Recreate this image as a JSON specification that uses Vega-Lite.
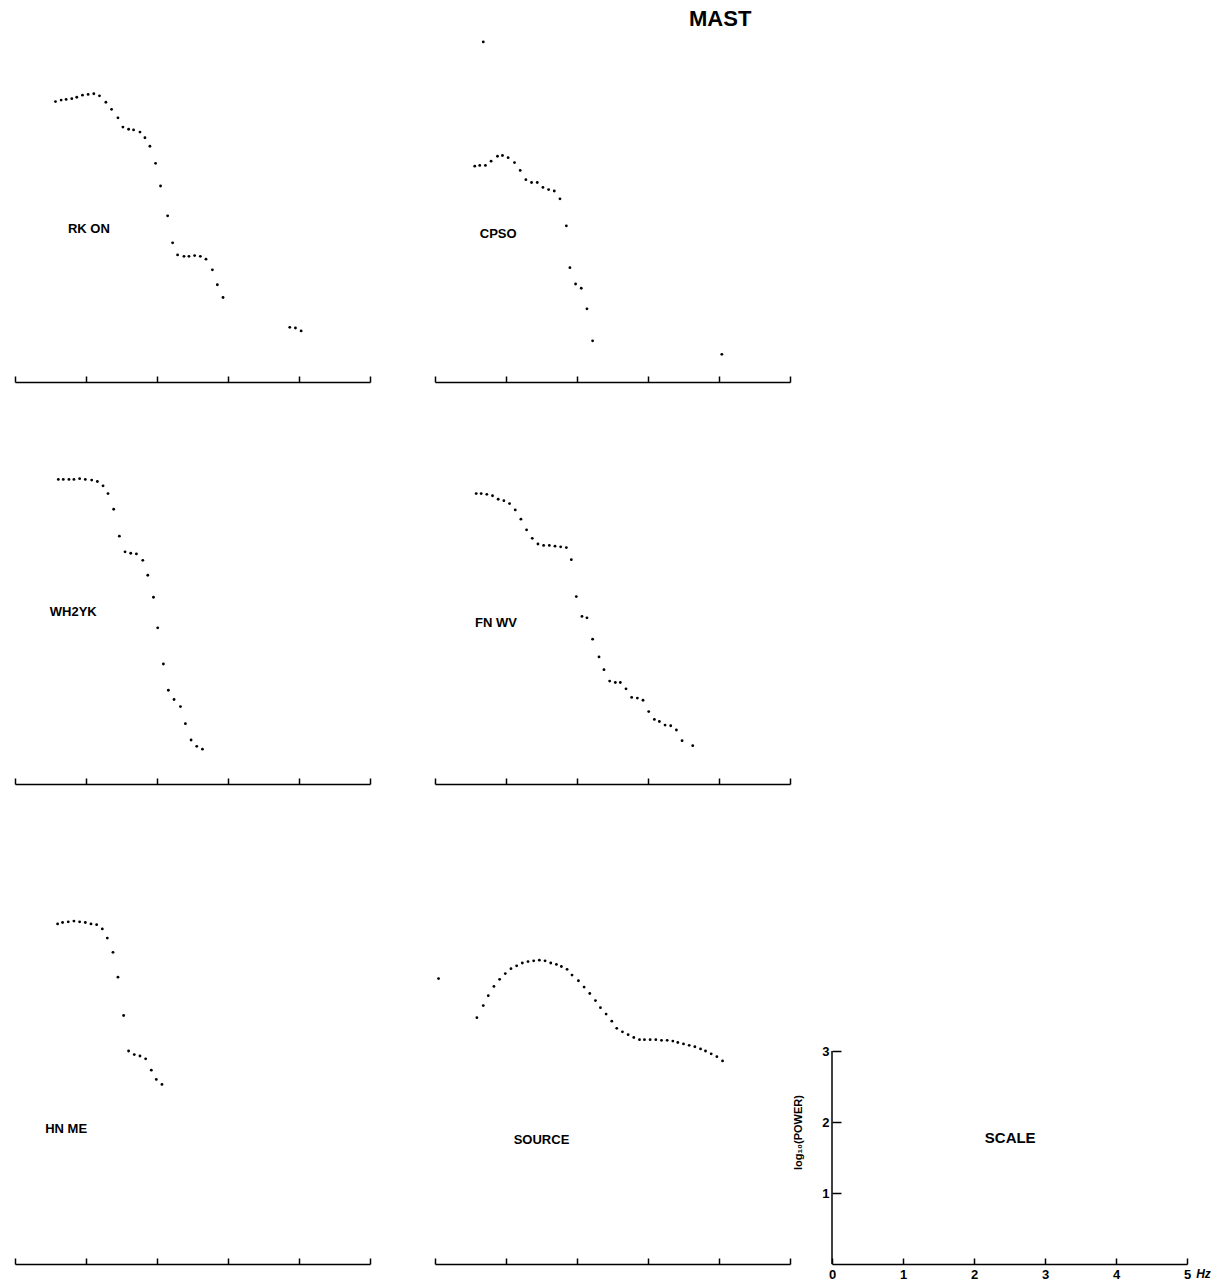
{
  "$schema": "https://vega.github.io/schema/vega-lite/v6.json",
  "padding": {"top": 8, "left": 14, "right": 0, "bottom": 4},
  "background": "white",
  "title": {
    "text": "MAST",
    "anchor": "start",
    "frame": "group",
    "dx": 674,
    "fontSize": 22,
    "font": "Liberation Sans",
    "fontWeight": "bold",
    "color": "#000",
    "offset": 6
  },
  "datasets": {
    "spectra": [
      {"p": "RK ON", "f": 0.57, "v": 3.95}, {"p": "RK ON", "f": 0.65, "v": 3.97}, {"p": "RK ON", "f": 0.72, "v": 3.98},
      {"p": "RK ON", "f": 0.80, "v": 3.99}, {"p": "RK ON", "f": 0.87, "v": 4.01}, {"p": "RK ON", "f": 0.95, "v": 4.04},
      {"p": "RK ON", "f": 1.03, "v": 4.05}, {"p": "RK ON", "f": 1.11, "v": 4.06}, {"p": "RK ON", "f": 1.19, "v": 4.03},
      {"p": "RK ON", "f": 1.28, "v": 3.94}, {"p": "RK ON", "f": 1.36, "v": 3.84}, {"p": "RK ON", "f": 1.45, "v": 3.72},
      {"p": "RK ON", "f": 1.52, "v": 3.59}, {"p": "RK ON", "f": 1.60, "v": 3.56}, {"p": "RK ON", "f": 1.67, "v": 3.55},
      {"p": "RK ON", "f": 1.76, "v": 3.52}, {"p": "RK ON", "f": 1.83, "v": 3.44}, {"p": "RK ON", "f": 1.90, "v": 3.32},
      {"p": "RK ON", "f": 1.98, "v": 3.08}, {"p": "RK ON", "f": 2.05, "v": 2.76}, {"p": "RK ON", "f": 2.15, "v": 2.34},
      {"p": "RK ON", "f": 2.22, "v": 1.96}, {"p": "RK ON", "f": 2.29, "v": 1.79}, {"p": "RK ON", "f": 2.38, "v": 1.77},
      {"p": "RK ON", "f": 2.45, "v": 1.77}, {"p": "RK ON", "f": 2.53, "v": 1.78}, {"p": "RK ON", "f": 2.61, "v": 1.77},
      {"p": "RK ON", "f": 2.69, "v": 1.73}, {"p": "RK ON", "f": 2.78, "v": 1.58}, {"p": "RK ON", "f": 2.85, "v": 1.37},
      {"p": "RK ON", "f": 2.93, "v": 1.19}, {"p": "RK ON", "f": 3.87, "v": 0.77}, {"p": "RK ON", "f": 3.95, "v": 0.76},
      {"p": "RK ON", "f": 4.03, "v": 0.72},

      {"p": "CPSO", "f": 0.68, "v": 4.79},
      {"p": "CPSO", "f": 0.56, "v": 3.04}, {"p": "CPSO", "f": 0.63, "v": 3.05}, {"p": "CPSO", "f": 0.71, "v": 3.05},
      {"p": "CPSO", "f": 0.79, "v": 3.11}, {"p": "CPSO", "f": 0.88, "v": 3.18}, {"p": "CPSO", "f": 0.95, "v": 3.19},
      {"p": "CPSO", "f": 1.03, "v": 3.16}, {"p": "CPSO", "f": 1.12, "v": 3.09}, {"p": "CPSO", "f": 1.20, "v": 2.98},
      {"p": "CPSO", "f": 1.28, "v": 2.85}, {"p": "CPSO", "f": 1.36, "v": 2.81}, {"p": "CPSO", "f": 1.44, "v": 2.81},
      {"p": "CPSO", "f": 1.52, "v": 2.74}, {"p": "CPSO", "f": 1.60, "v": 2.71}, {"p": "CPSO", "f": 1.68, "v": 2.69},
      {"p": "CPSO", "f": 1.76, "v": 2.58}, {"p": "CPSO", "f": 1.85, "v": 2.20}, {"p": "CPSO", "f": 1.90, "v": 1.61},
      {"p": "CPSO", "f": 1.98, "v": 1.38}, {"p": "CPSO", "f": 2.06, "v": 1.32}, {"p": "CPSO", "f": 2.14, "v": 1.03},
      {"p": "CPSO", "f": 2.22, "v": 0.58}, {"p": "CPSO", "f": 4.04, "v": 0.39},

      {"p": "WH2YK", "f": 0.61, "v": 4.29}, {"p": "WH2YK", "f": 0.68, "v": 4.29}, {"p": "WH2YK", "f": 0.76, "v": 4.29},
      {"p": "WH2YK", "f": 0.83, "v": 4.29}, {"p": "WH2YK", "f": 0.91, "v": 4.30}, {"p": "WH2YK", "f": 0.99, "v": 4.29},
      {"p": "WH2YK", "f": 1.08, "v": 4.28}, {"p": "WH2YK", "f": 1.16, "v": 4.26}, {"p": "WH2YK", "f": 1.24, "v": 4.20},
      {"p": "WH2YK", "f": 1.31, "v": 4.09}, {"p": "WH2YK", "f": 1.39, "v": 3.87}, {"p": "WH2YK", "f": 1.47, "v": 3.49},
      {"p": "WH2YK", "f": 1.55, "v": 3.27}, {"p": "WH2YK", "f": 1.63, "v": 3.25}, {"p": "WH2YK", "f": 1.71, "v": 3.24},
      {"p": "WH2YK", "f": 1.80, "v": 3.15}, {"p": "WH2YK", "f": 1.87, "v": 2.94}, {"p": "WH2YK", "f": 1.95, "v": 2.63},
      {"p": "WH2YK", "f": 2.01, "v": 2.20}, {"p": "WH2YK", "f": 2.09, "v": 1.69}, {"p": "WH2YK", "f": 2.16, "v": 1.32},
      {"p": "WH2YK", "f": 2.24, "v": 1.19}, {"p": "WH2YK", "f": 2.33, "v": 1.09}, {"p": "WH2YK", "f": 2.40, "v": 0.85},
      {"p": "WH2YK", "f": 2.48, "v": 0.62}, {"p": "WH2YK", "f": 2.56, "v": 0.53}, {"p": "WH2YK", "f": 2.64, "v": 0.49},

      {"p": "FN WV", "f": 0.58, "v": 4.09}, {"p": "FN WV", "f": 0.65, "v": 4.09}, {"p": "FN WV", "f": 0.73, "v": 4.08},
      {"p": "FN WV", "f": 0.81, "v": 4.06}, {"p": "FN WV", "f": 0.89, "v": 4.01}, {"p": "FN WV", "f": 0.97, "v": 3.99},
      {"p": "FN WV", "f": 1.05, "v": 3.95}, {"p": "FN WV", "f": 1.13, "v": 3.86}, {"p": "FN WV", "f": 1.21, "v": 3.73},
      {"p": "FN WV", "f": 1.29, "v": 3.58}, {"p": "FN WV", "f": 1.37, "v": 3.46}, {"p": "FN WV", "f": 1.45, "v": 3.38},
      {"p": "FN WV", "f": 1.53, "v": 3.36}, {"p": "FN WV", "f": 1.61, "v": 3.36}, {"p": "FN WV", "f": 1.69, "v": 3.35},
      {"p": "FN WV", "f": 1.77, "v": 3.34}, {"p": "FN WV", "f": 1.85, "v": 3.33}, {"p": "FN WV", "f": 1.92, "v": 3.16},
      {"p": "FN WV", "f": 1.99, "v": 2.64}, {"p": "FN WV", "f": 2.07, "v": 2.36}, {"p": "FN WV", "f": 2.14, "v": 2.34},
      {"p": "FN WV", "f": 2.22, "v": 2.04}, {"p": "FN WV", "f": 2.31, "v": 1.79}, {"p": "FN WV", "f": 2.38, "v": 1.61},
      {"p": "FN WV", "f": 2.46, "v": 1.45}, {"p": "FN WV", "f": 2.54, "v": 1.43}, {"p": "FN WV", "f": 2.61, "v": 1.43},
      {"p": "FN WV", "f": 2.69, "v": 1.34}, {"p": "FN WV", "f": 2.77, "v": 1.22}, {"p": "FN WV", "f": 2.85, "v": 1.21},
      {"p": "FN WV", "f": 2.93, "v": 1.18}, {"p": "FN WV", "f": 3.01, "v": 1.02}, {"p": "FN WV", "f": 3.09, "v": 0.91},
      {"p": "FN WV", "f": 3.16, "v": 0.88}, {"p": "FN WV", "f": 3.24, "v": 0.83}, {"p": "FN WV", "f": 3.32, "v": 0.82},
      {"p": "FN WV", "f": 3.40, "v": 0.76}, {"p": "FN WV", "f": 3.48, "v": 0.61}, {"p": "FN WV", "f": 3.63, "v": 0.54},

      {"p": "HN ME", "f": 0.60, "v": 4.79}, {"p": "HN ME", "f": 0.67, "v": 4.81}, {"p": "HN ME", "f": 0.75, "v": 4.82},
      {"p": "HN ME", "f": 0.83, "v": 4.83}, {"p": "HN ME", "f": 0.91, "v": 4.82}, {"p": "HN ME", "f": 0.99, "v": 4.81},
      {"p": "HN ME", "f": 1.07, "v": 4.79}, {"p": "HN ME", "f": 1.15, "v": 4.78}, {"p": "HN ME", "f": 1.23, "v": 4.72},
      {"p": "HN ME", "f": 1.30, "v": 4.59}, {"p": "HN ME", "f": 1.38, "v": 4.39}, {"p": "HN ME", "f": 1.45, "v": 4.04},
      {"p": "HN ME", "f": 1.53, "v": 3.50}, {"p": "HN ME", "f": 1.60, "v": 3.00}, {"p": "HN ME", "f": 1.68, "v": 2.95},
      {"p": "HN ME", "f": 1.76, "v": 2.93}, {"p": "HN ME", "f": 1.84, "v": 2.89}, {"p": "HN ME", "f": 1.92, "v": 2.73},
      {"p": "HN ME", "f": 1.99, "v": 2.60}, {"p": "HN ME", "f": 2.07, "v": 2.53},

      {"p": "SOURCE", "f": 0.05, "v": 4.02},
      {"p": "SOURCE", "f": 0.59, "v": 3.47}, {"p": "SOURCE", "f": 0.68, "v": 3.64}, {"p": "SOURCE", "f": 0.75, "v": 3.78},
      {"p": "SOURCE", "f": 0.83, "v": 3.91}, {"p": "SOURCE", "f": 0.91, "v": 4.01}, {"p": "SOURCE", "f": 0.99, "v": 4.09},
      {"p": "SOURCE", "f": 1.07, "v": 4.16}, {"p": "SOURCE", "f": 1.15, "v": 4.20}, {"p": "SOURCE", "f": 1.23, "v": 4.24},
      {"p": "SOURCE", "f": 1.31, "v": 4.26}, {"p": "SOURCE", "f": 1.39, "v": 4.27}, {"p": "SOURCE", "f": 1.47, "v": 4.28},
      {"p": "SOURCE", "f": 1.55, "v": 4.27}, {"p": "SOURCE", "f": 1.63, "v": 4.24}, {"p": "SOURCE", "f": 1.71, "v": 4.22},
      {"p": "SOURCE", "f": 1.78, "v": 4.19}, {"p": "SOURCE", "f": 1.86, "v": 4.15}, {"p": "SOURCE", "f": 1.93, "v": 4.07},
      {"p": "SOURCE", "f": 2.02, "v": 3.99}, {"p": "SOURCE", "f": 2.10, "v": 3.90}, {"p": "SOURCE", "f": 2.18, "v": 3.81},
      {"p": "SOURCE", "f": 2.26, "v": 3.71}, {"p": "SOURCE", "f": 2.33, "v": 3.61}, {"p": "SOURCE", "f": 2.41, "v": 3.52},
      {"p": "SOURCE", "f": 2.49, "v": 3.42}, {"p": "SOURCE", "f": 2.56, "v": 3.32}, {"p": "SOURCE", "f": 2.64, "v": 3.27},
      {"p": "SOURCE", "f": 2.72, "v": 3.23}, {"p": "SOURCE", "f": 2.80, "v": 3.19}, {"p": "SOURCE", "f": 2.88, "v": 3.16},
      {"p": "SOURCE", "f": 2.95, "v": 3.16}, {"p": "SOURCE", "f": 3.03, "v": 3.16}, {"p": "SOURCE", "f": 3.11, "v": 3.16},
      {"p": "SOURCE", "f": 3.19, "v": 3.15}, {"p": "SOURCE", "f": 3.27, "v": 3.15}, {"p": "SOURCE", "f": 3.35, "v": 3.14},
      {"p": "SOURCE", "f": 3.42, "v": 3.12}, {"p": "SOURCE", "f": 3.50, "v": 3.10}, {"p": "SOURCE", "f": 3.58, "v": 3.08},
      {"p": "SOURCE", "f": 3.66, "v": 3.06}, {"p": "SOURCE", "f": 3.74, "v": 3.03}, {"p": "SOURCE", "f": 3.81, "v": 3.00},
      {"p": "SOURCE", "f": 3.89, "v": 2.96}, {"p": "SOURCE", "f": 3.97, "v": 2.92}, {"p": "SOURCE", "f": 4.05, "v": 2.86}
    ],
    "labels": [
      {"p": "RK ON", "f": 1.04, "v": 2.15},
      {"p": "CPSO", "f": 0.89, "v": 2.09},
      {"p": "WH2YK", "f": 0.82, "v": 2.42},
      {"p": "FN WV", "f": 0.86, "v": 2.27},
      {"p": "HN ME", "f": 0.72, "v": 1.90},
      {"p": "SOURCE", "f": 1.50, "v": 1.74},
      {"p": "SCALE", "f": 2.51, "v": 1.78}
    ]
  },
  "vconcat": [
    {
      "hconcat": [
        {
          "width": 355, "height": 345,
          "layer": [
            {"data": {"name": "spectra"}, "transform": [{"filter": "datum.p == 'RK ON'"}],
             "mark": {"type": "circle", "size": 8, "color": "#000", "opacity": 1},
             "encoding": {
               "x": {"field": "f", "type": "quantitative", "scale": {"domain": [0, 5], "nice": false, "zero": false},
                     "axis": {"values": [0, 1, 2, 3, 4, 5], "labels": false, "tickSize": -6, "tickWidth": 1.5, "domainWidth": 1.5, "title": null}},
               "y": {"field": "v", "type": "quantitative", "scale": {"domain": [0, 4.859], "nice": false}, "axis": null}}},
            {"data": {"name": "labels"}, "transform": [{"filter": "datum.p == 'RK ON'"}],
             "mark": {"type": "text", "fontSize": 13, "fontWeight": "bold", "font": "Liberation Sans", "color": "#000"},
             "encoding": {"x": {"field": "f", "type": "quantitative"}, "y": {"field": "v", "type": "quantitative"}, "text": {"field": "p"}}}
          ]
        },
        {
          "width": 355, "height": 345,
          "layer": [
            {"data": {"name": "spectra"}, "transform": [{"filter": "datum.p == 'CPSO'"}],
             "mark": {"type": "circle", "size": 8, "color": "#000", "opacity": 1},
             "encoding": {
               "x": {"field": "f", "type": "quantitative", "scale": {"domain": [0, 5], "nice": false, "zero": false},
                     "axis": {"values": [0, 1, 2, 3, 4, 5], "labels": false, "tickSize": -6, "tickWidth": 1.5, "domainWidth": 1.5, "title": null}},
               "y": {"field": "v", "type": "quantitative", "scale": {"domain": [0, 4.859], "nice": false}, "axis": null}}},
            {"data": {"name": "labels"}, "transform": [{"filter": "datum.p == 'CPSO'"}],
             "mark": {"type": "text", "fontSize": 13, "fontWeight": "bold", "font": "Liberation Sans", "color": "#000"},
             "encoding": {"x": {"field": "f", "type": "quantitative"}, "y": {"field": "v", "type": "quantitative"}, "text": {"field": "p"}}}
          ]
        }
      ],
      "spacing": 63
    },
    {
      "hconcat": [
        {
          "width": 355, "height": 345,
          "layer": [
            {"data": {"name": "spectra"}, "transform": [{"filter": "datum.p == 'WH2YK'"}],
             "mark": {"type": "circle", "size": 8, "color": "#000", "opacity": 1},
             "encoding": {
               "x": {"field": "f", "type": "quantitative", "scale": {"domain": [0, 5], "nice": false, "zero": false},
                     "axis": {"values": [0, 1, 2, 3, 4, 5], "labels": false, "tickSize": -6, "tickWidth": 1.5, "domainWidth": 1.5, "title": null}},
               "y": {"field": "v", "type": "quantitative", "scale": {"domain": [0, 4.859], "nice": false}, "axis": null}}},
            {"data": {"name": "labels"}, "transform": [{"filter": "datum.p == 'WH2YK'"}],
             "mark": {"type": "text", "fontSize": 13, "fontWeight": "bold", "font": "Liberation Sans", "color": "#000"},
             "encoding": {"x": {"field": "f", "type": "quantitative"}, "y": {"field": "v", "type": "quantitative"}, "text": {"field": "p"}}}
          ]
        },
        {
          "width": 355, "height": 345,
          "layer": [
            {"data": {"name": "spectra"}, "transform": [{"filter": "datum.p == 'FN WV'"}],
             "mark": {"type": "circle", "size": 8, "color": "#000", "opacity": 1},
             "encoding": {
               "x": {"field": "f", "type": "quantitative", "scale": {"domain": [0, 5], "nice": false, "zero": false},
                     "axis": {"values": [0, 1, 2, 3, 4, 5], "labels": false, "tickSize": -6, "tickWidth": 1.5, "domainWidth": 1.5, "title": null}},
               "y": {"field": "v", "type": "quantitative", "scale": {"domain": [0, 4.859], "nice": false}, "axis": null}}},
            {"data": {"name": "labels"}, "transform": [{"filter": "datum.p == 'FN WV'"}],
             "mark": {"type": "text", "fontSize": 13, "fontWeight": "bold", "font": "Liberation Sans", "color": "#000"},
             "encoding": {"x": {"field": "f", "type": "quantitative"}, "y": {"field": "v", "type": "quantitative"}, "text": {"field": "p"}}}
          ]
        }
      ],
      "spacing": 63
    },
    {
      "hconcat": [
        {
          "width": 355, "height": 423,
          "layer": [
            {"data": {"name": "spectra"}, "transform": [{"filter": "datum.p == 'HN ME'"}],
             "mark": {"type": "circle", "size": 8, "color": "#000", "opacity": 1},
             "encoding": {
               "x": {"field": "f", "type": "quantitative", "scale": {"domain": [0, 5], "nice": false, "zero": false},
                     "axis": {"values": [0, 1, 2, 3, 4, 5], "labels": false, "tickSize": -6, "tickWidth": 1.5, "domainWidth": 1.5, "title": null}},
               "y": {"field": "v", "type": "quantitative", "scale": {"domain": [0, 5.958], "nice": false}, "axis": null}}},
            {"data": {"name": "labels"}, "transform": [{"filter": "datum.p == 'HN ME'"}],
             "mark": {"type": "text", "fontSize": 13, "fontWeight": "bold", "font": "Liberation Sans", "color": "#000"},
             "encoding": {"x": {"field": "f", "type": "quantitative"}, "y": {"field": "v", "type": "quantitative"}, "text": {"field": "p"}}}
          ]
        },
        {
          "hconcat": [
            {
              "width": 355, "height": 423,
              "layer": [
                {"data": {"name": "spectra"}, "transform": [{"filter": "datum.p == 'SOURCE'"}],
                 "mark": {"type": "circle", "size": 8, "color": "#000", "opacity": 1},
                 "encoding": {
                   "x": {"field": "f", "type": "quantitative", "scale": {"domain": [0, 5], "nice": false, "zero": false},
                         "axis": {"values": [0, 1, 2, 3, 4, 5], "labels": false, "tickSize": -6, "tickWidth": 1.5, "domainWidth": 1.5, "title": null}},
                   "y": {"field": "v", "type": "quantitative", "scale": {"domain": [0, 5.958], "nice": false}, "axis": null}}},
                {"data": {"name": "labels"}, "transform": [{"filter": "datum.p == 'SOURCE'"}],
                 "mark": {"type": "text", "fontSize": 13, "fontWeight": "bold", "font": "Liberation Sans", "color": "#000"},
                 "encoding": {"x": {"field": "f", "type": "quantitative"}, "y": {"field": "v", "type": "quantitative"}, "text": {"field": "p"}}}
              ]
            },
            {
              "width": 355, "height": 423,
              "layer": [
                {"data": {"name": "labels"}, "transform": [{"filter": "datum.p == 'SCALE'"}],
                 "mark": {"type": "rule", "color": "#000", "strokeWidth": 1.5},
                 "encoding": {
                   "x": {"datum": 0, "type": "quantitative", "scale": {"domain": [0, 5], "nice": false, "zero": false},
                         "axis": {"values": [0, 1, 2, 3, 4, 5], "format": "d", "labelFlush": false, "tickSize": -6, "tickWidth": 1.5, "domainWidth": 1.5,
                                  "labelPadding": 10, "labelFontSize": 13, "labelFont": "Liberation Sans", "labelFontWeight": "bold", "labelColor": "#000",
                                  "title": "Hz", "titleX": 371, "titleY": 4, "titleBaseline": "top", "titleAlign": "center",
                                  "titleFontSize": 12, "titleFont": "Liberation Sans", "titleFontWeight": "bold", "titleFontStyle": "italic", "titleColor": "#000"}},
                   "y": {"datum": 0, "type": "quantitative", "scale": {"domain": [0, 5.958], "nice": false},
                         "axis": {"values": [1, 2, 3], "format": "d", "labelFlush": false, "domain": false, "tickSize": -9, "tickWidth": 1.5,
                                  "labelPadding": 12, "labelFontSize": 13, "labelFont": "Liberation Sans", "labelFontWeight": "bold", "labelColor": "#000",
                                  "title": "log₁₀(POWER)", "titleY": 291, "titleAlign": "center", "titlePadding": 18,
                                  "titleFontSize": 11, "titleFont": "Liberation Sans", "titleFontWeight": "bold", "titleColor": "#000"}},
                   "y2": {"datum": 3}}},
                {"data": {"name": "labels"}, "transform": [{"filter": "datum.p == 'SCALE'"}],
                 "mark": {"type": "text", "fontSize": 15, "fontWeight": "bold", "font": "Liberation Sans", "color": "#000"},
                 "encoding": {"x": {"field": "f", "type": "quantitative"}, "y": {"field": "v", "type": "quantitative"}, "text": {"field": "p"}}}
              ]
            }
          ],
          "spacing": 1
        }
      ],
      "spacing": 63
    }
  ],
  "spacing": 56,
  "config": {
    "view": {"stroke": null},
    "axis": {"grid": false, "domainColor": "#000", "tickColor": "#000"}
  }
}
